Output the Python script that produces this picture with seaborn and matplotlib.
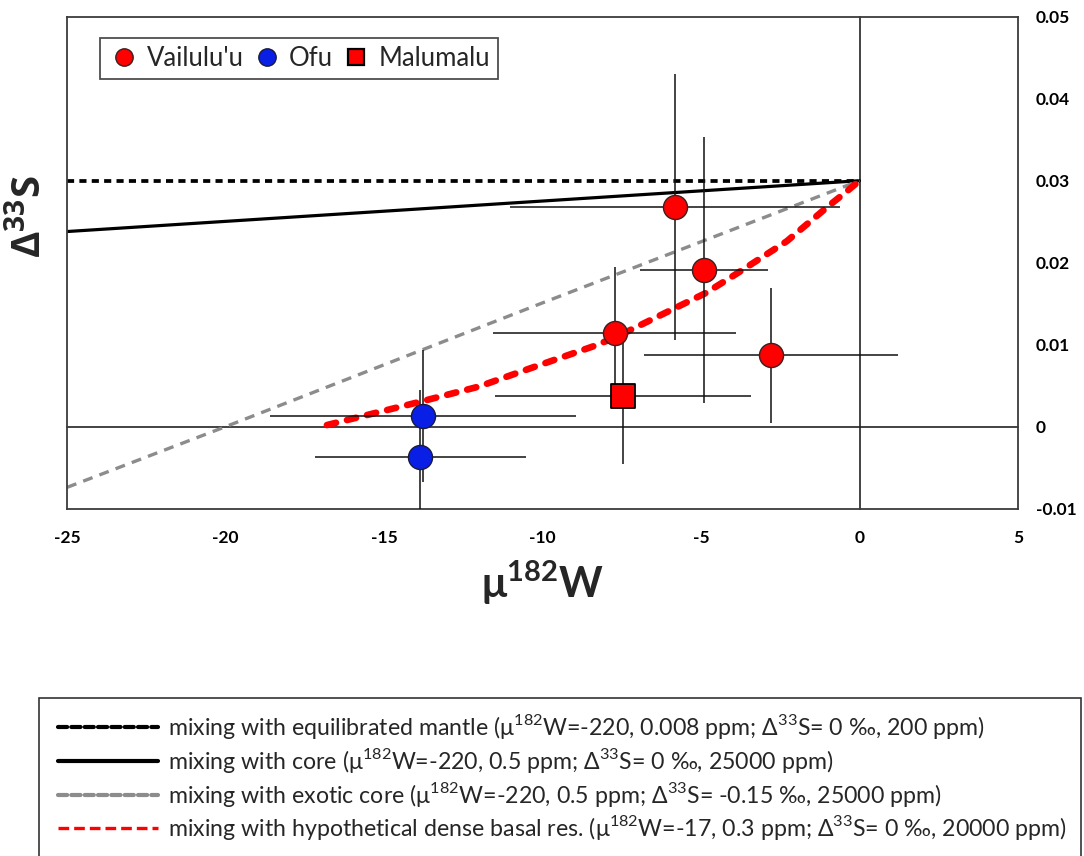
import matplotlib
matplotlib.use("Agg")
import matplotlib.pyplot as plt
from matplotlib.lines import Line2D
from matplotlib.legend_handler import HandlerLine2D
from matplotlib import font_manager
import seaborn as sns

# ---- samples: mu182W, Delta33S and their 2-sigma uncertainties ----
vail_w = [-5.82, -4.92, -7.72, -2.79]
vail_s = [0.0268, 0.0191, 0.0114, 0.0087]
vail_w_err = [5.22, 2.02, 3.83, 4.02]
vail_s_err = [0.0162, 0.0162, 0.0081, 0.0082]

ofu_w = [-13.77, -13.85]
ofu_s = [0.0013, -0.0037]
ofu_w_err = [4.83, 3.33]
ofu_s_err = [0.0081, 0.0082]

malu_w = [-7.46]
malu_s = [0.0037]
malu_w_err = [4.03]
malu_s_err = [0.0082]

sample_names = ["Vailulu'u", "Ofu", "Malumalu"]

# ---- mixing curves ----
mantle_w = [-25.0, 0.0]
mantle_s = [0.0300, 0.0300]

core_w = [-25.0, -12.5, 0.0]
core_s = [0.0238, 0.0269, 0.0300]

exotic_w = [-25.0, -20.0, -10.0, 0.0]
exotic_s = [-0.0074, 0.0, 0.0151, 0.0300]

basal_w = [-16.8, -13.8, -12.0, -10.4, -8.4, -7.7, -4.85, -3.9, -2.3, -0.95, -0.4, 0.0]
basal_s = [0.0002, 0.0031, 0.0049, 0.0071, 0.0098, 0.0109, 0.0163, 0.0186, 0.0226, 0.0270, 0.0287, 0.0300]

curve_labels = [
    r"mixing with equilibrated mantle (μ$^{\mathregular{182}}$W=-220, 0.008 ppm; Δ$^{\mathregular{33}}$S= 0 ‰, 200 ppm)",
    r"mixing with core (μ$^{\mathregular{182}}$W=-220, 0.5 ppm; Δ$^{\mathregular{33}}$S= 0 ‰, 25000 ppm)",
    r"mixing with exotic core (μ$^{\mathregular{182}}$W=-220, 0.5 ppm; Δ$^{\mathregular{33}}$S= -0.15 ‰, 25000 ppm)",
    r"mixing with hypothetical dense basal res. (μ$^{\mathregular{182}}$W=-17, 0.3 ppm; Δ$^{\mathregular{33}}$S= 0 ‰, 20000 ppm)",
]

x_ticks = [-25, -20, -15, -10, -5, 0, 5]
x_tick_labels = ["-25", "-20", "-15", "-10", "-5", "0", "5"]
y_ticks = [-0.01, 0.0, 0.01, 0.02, 0.03, 0.04, 0.05]
y_tick_labels = ["-0.01", "0", "0.01", "0.02", "0.03", "0.04", "0.05"]
zero_x_ticks = [-20, -15, -10, -5]
zero_y_ticks = [0.01, 0.02, 0.03, 0.04]

# ---- style ----
sns.set_style("white")
available = {f.name for f in font_manager.fontManager.ttflist}
main_font = "Lato" if "Lato" in available else "DejaVu Sans"
plt.rcParams["font.family"] = [main_font, "DejaVu Sans"]

RED = "#ff0000"
BLUE = "#0a1fe6"
GRAY = "#8c8c8c"
EDGE = "#3a2020"

W_PX, H_PX = 1084, 856
fig = plt.figure(figsize=(W_PX / 100, H_PX / 100), dpi=100)
fig.patch.set_facecolor("white")

left, right, top, bottom = 67, 1018, 16.7, 508.7
rect = [left / W_PX, 1 - bottom / H_PX, (right - left) / W_PX, (bottom - top) / H_PX]
xlim, ylim = (-25, 5), (-0.01, 0.05)

# axes whose spines cross at the origin (zero lines with small ticks)
ax0 = fig.add_axes(rect)
ax0.set_xlim(*xlim)
ax0.set_ylim(*ylim)
ax0.set_facecolor("white")
for side in ["top", "right"]:
    ax0.spines[side].set_visible(False)
ax0.spines["left"].set_position(("data", 0))
ax0.spines["bottom"].set_position(("data", 0))
for side in ["left", "bottom"]:
    ax0.spines[side].set_color("#222222")
    ax0.spines[side].set_linewidth(1.2)
ax0.set_xticks(zero_x_ticks)
ax0.set_yticks(zero_y_ticks)
ax0.tick_params(direction="out", length=5, width=1.2, color="#222222",
                labelbottom=False, labelleft=False)

# main data axes with boxed frame
ax = fig.add_axes(rect)
ax.set_facecolor("none")
ax.set_xlim(*xlim)
ax.set_ylim(*ylim)
for sp in ax.spines.values():
    sp.set_visible(True)
    sp.set_color("#3c3c3c")
    sp.set_linewidth(1.3)

# mixing curves
sns.lineplot(x=mantle_w, y=mantle_s, ax=ax, color="black", lw=2.7,
             linestyle=(0, (1.9, 1.4)), errorbar=None, zorder=2)
sns.lineplot(x=core_w, y=core_s, ax=ax, color="black", lw=2.3,
             errorbar=None, zorder=2)
sns.lineplot(x=exotic_w, y=exotic_s, ax=ax, color=GRAY, lw=2.4,
             linestyle=(0, (3.0, 2.2)), errorbar=None, zorder=2)
sns.lineplot(x=basal_w, y=basal_s, ax=ax, color=RED, lw=4.8,
             linestyle=(0, (1.4, 1.7)), dash_capstyle="round",
             errorbar=None, zorder=2)

# uncertainties
eb_kw = dict(fmt="none", ecolor="#111111", elinewidth=1.1, capsize=0, zorder=3)
ax.errorbar(vail_w, vail_s, xerr=vail_w_err, yerr=vail_s_err, **eb_kw)
ax.errorbar(ofu_w, ofu_s, xerr=ofu_w_err, yerr=ofu_s_err, **eb_kw)
ax.errorbar(malu_w, malu_s, xerr=malu_w_err, yerr=malu_s_err, **eb_kw)

# samples
sns.scatterplot(x=vail_w, y=vail_s, ax=ax, color=RED, s=300, marker="o",
                edgecolor=EDGE, linewidth=1.0, zorder=5, legend=False)
sns.scatterplot(x=ofu_w, y=ofu_s, ax=ax, color=BLUE, s=300, marker="o",
                edgecolor="#1a1a3a", linewidth=1.0, zorder=5, legend=False)
sns.scatterplot(x=malu_w, y=malu_s, ax=ax, color=RED, s=300, marker="s",
                edgecolor="black", linewidth=1.3, zorder=5, legend=False)

# ticks and labels
ax.set_xticks(x_ticks)
ax.set_xticklabels(x_tick_labels)
ax.yaxis.tick_right()
ax.set_yticks(y_ticks)
ax.set_yticklabels(y_tick_labels)
ax.tick_params(axis="both", length=0, labelsize=12.5, labelcolor="black")
ax.tick_params(axis="x", pad=15)
ax.tick_params(axis="y", pad=13)
for lab in ax.get_xticklabels() + ax.get_yticklabels():
    lab.set_fontweight("bold")

ax.set_xlabel(r"μ$^{\mathregular{182}}$W", fontsize=30, fontweight="bold", va="center")
ax.xaxis.set_label_coords(542.5 / W_PX, 1 - 583 / H_PX, transform=fig.transFigure)
ax.set_ylabel(r"Δ$^{\mathregular{33}}$S", fontsize=29, fontweight="bold", va="center",
              family=["Open Sans", "DejaVu Sans"])
ax.yaxis.set_label_coords(29 / W_PX, 1 - 217 / H_PX, transform=fig.transFigure)

# sample legend
sample_handles = [
    Line2D([], [], ls="none", marker="o", ms=12.5, mfc=RED, mec=EDGE, mew=1.0),
    Line2D([], [], ls="none", marker="o", ms=12.5, mfc=BLUE, mec="#1a1a3a", mew=1.0),
    Line2D([], [], ls="none", marker="s", ms=11.5, mfc=RED, mec="black", mew=1.6),
]
leg1 = ax.legend(sample_handles, sample_names, loc="upper left",
                 bbox_to_anchor=(100 / W_PX, 1 - 38.5 / H_PX), bbox_transform=fig.transFigure,
                 ncol=3, frameon=True, fancybox=False, edgecolor="#222222",
                 fontsize=18.5, handlelength=1.3, handletextpad=0.22, columnspacing=0.25,
                 borderpad=0.3, borderaxespad=0)
leg1.get_frame().set_linewidth(1.3)


class InsetLineHandler(HandlerLine2D):
    """Line handle drawn slightly inset from the left edge of its box."""

    def __init__(self, inset=3.0, **kw):
        super().__init__(**kw)
        self.inset = inset

    def create_artists(self, legend, orig_handle, xdescent, ydescent,
                       width, height, fontsize, trans):
        return super().create_artists(legend, orig_handle, xdescent - self.inset,
                                      ydescent, width - self.inset, height,
                                      fontsize, trans)


# mixing-curve legend below the plot
curve_handles = [
    Line2D([], [], color="black", lw=3.0, linestyle=(0, (2.2, 1.0)), dash_capstyle="round"),
    Line2D([], [], color="black", lw=3.0),
    Line2D([], [], color=GRAY, lw=3.0, linestyle=(0, (2.2, 1.0)), dash_capstyle="round"),
    Line2D([], [], color=RED, lw=2.4, linestyle=(0, (3.2, 1.5))),
]
leg2 = fig.legend(curve_handles, curve_labels, loc="upper left",
                  bbox_to_anchor=(39 / W_PX, 1 - 698 / H_PX),
                  frameon=True, fancybox=False, edgecolor="black",
                  prop={"family": main_font, "size": 16.7},
                  handlelength=4.5, handletextpad=0.45, labelspacing=0.2,
                  borderpad=0.62, borderaxespad=0,
                  handler_map={Line2D: InsetLineHandler(inset=3.0)})
leg2.get_frame().set_linewidth(1.2)

fig.savefig("out.png", dpi=100, facecolor="white")
